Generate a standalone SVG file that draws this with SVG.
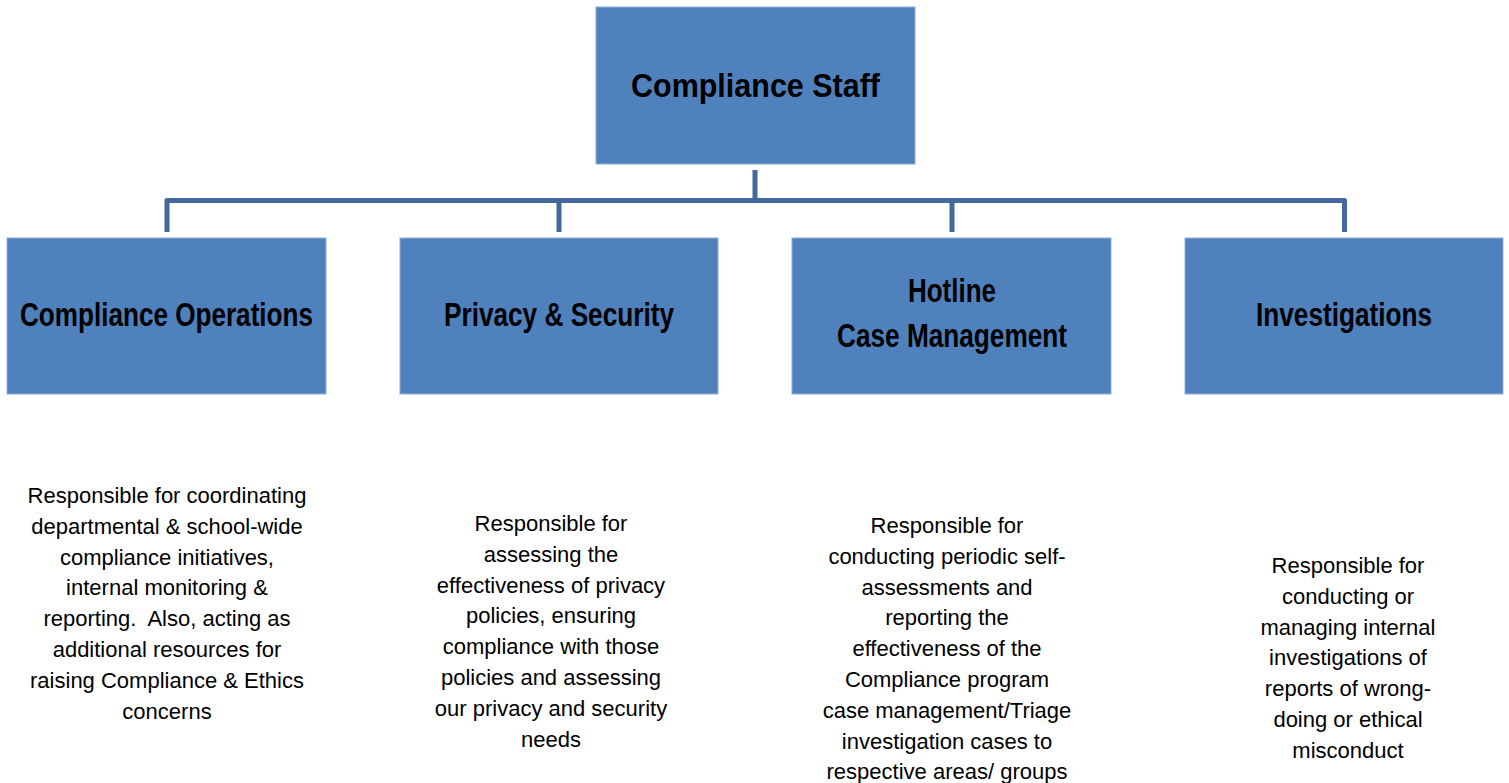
<svg xmlns="http://www.w3.org/2000/svg" width="1509" height="783" viewBox="0 0 1509 783">
<style>
.box{fill:#4F81BD;stroke:#8EADD6;stroke-width:1}
.head{font-family:"Liberation Sans",Arial,sans-serif;font-weight:bold;font-size:33px;fill:#000;text-anchor:middle}
.body{font-family:"Liberation Sans",Arial,sans-serif;font-size:22px;fill:#000;text-anchor:middle}
.conn{fill:none;stroke:#41699B;stroke-width:5;stroke-linejoin:round}
</style>
<rect width="1509" height="783" fill="#fff"/>
<g id="connectors">
<path class="conn" d="M755,170 V200.5"/>
<path class="conn" d="M167,232 V200.5 H1344.5 V232"/>
<path class="conn" d="M559,200.5 V232"/>
<path class="conn" d="M952,200.5 V232"/>
</g>
<g id="compliance-staff">
<rect class="box" x="596" y="7" width="319" height="157"/>
<text class="head" x="755.5" y="97" font-size="37" textLength="249" lengthAdjust="spacingAndGlyphs">Compliance Staff</text>
</g>
<g id="compliance-operations">
<rect class="box" x="7" y="238" width="319" height="156"/>
<text class="head" x="166.5" y="326" textLength="293" lengthAdjust="spacingAndGlyphs">Compliance Operations</text>
</g>
<g id="privacy-security">
<rect class="box" x="400" y="238" width="318" height="156"/>
<text class="head" x="559" y="326" textLength="230" lengthAdjust="spacingAndGlyphs">Privacy &amp; Security</text>
</g>
<g id="hotline">
<rect class="box" x="792" y="238" width="319" height="156"/>
<text class="head" x="952" y="302" textLength="88" lengthAdjust="spacingAndGlyphs">Hotline</text>
<text class="head" x="952" y="347" textLength="230" lengthAdjust="spacingAndGlyphs">Case Management</text>
</g>
<g id="investigations">
<rect class="box" x="1185" y="238" width="318" height="156"/>
<text class="head" x="1344" y="326" textLength="176" lengthAdjust="spacingAndGlyphs">Investigations</text>
</g>
<g id="desc-operations">
<text class="body" x="167" y="503">Responsible for coordinating</text>
<text class="body" x="167" y="533.8">departmental &amp; school-wide</text>
<text class="body" x="167" y="564.6">compliance initiatives,</text>
<text class="body" x="167" y="595.4">internal monitoring &amp;</text>
<text class="body" x="167" y="626.2" xml:space="preserve">reporting.  Also, acting as</text>
<text class="body" x="167" y="657">additional resources for</text>
<text class="body" x="167" y="687.8">raising Compliance &amp; Ethics</text>
<text class="body" x="167" y="718.6">concerns</text>
</g>
<g id="desc-privacy">
<text class="body" x="551" y="531">Responsible for</text>
<text class="body" x="551" y="561.8">assessing the</text>
<text class="body" x="551" y="592.6">effectiveness of privacy</text>
<text class="body" x="551" y="623.4">policies, ensuring</text>
<text class="body" x="551" y="654.2">compliance with those</text>
<text class="body" x="551" y="685">policies and assessing</text>
<text class="body" x="551" y="715.8">our privacy and security</text>
<text class="body" x="551" y="746.6">needs</text>
</g>
<g id="desc-hotline">
<text class="body" x="947" y="533">Responsible for</text>
<text class="body" x="947" y="563.8">conducting periodic self-</text>
<text class="body" x="947" y="594.6">assessments and</text>
<text class="body" x="947" y="625.4">reporting the</text>
<text class="body" x="947" y="656.2">effectiveness of the</text>
<text class="body" x="947" y="687">Compliance program</text>
<text class="body" x="947" y="717.8">case management/Triage</text>
<text class="body" x="947" y="748.6">investigation cases to</text>
<text class="body" x="947" y="779.4">respective areas/ groups</text>
</g>
<g id="desc-investigations">
<text class="body" x="1348" y="573">Responsible for</text>
<text class="body" x="1348" y="603.8">conducting or</text>
<text class="body" x="1348" y="634.6">managing internal</text>
<text class="body" x="1348" y="665.4">investigations of</text>
<text class="body" x="1348" y="696.2">reports of wrong-</text>
<text class="body" x="1348" y="727">doing or ethical</text>
<text class="body" x="1348" y="757.8">misconduct</text>
</g>
</svg>
